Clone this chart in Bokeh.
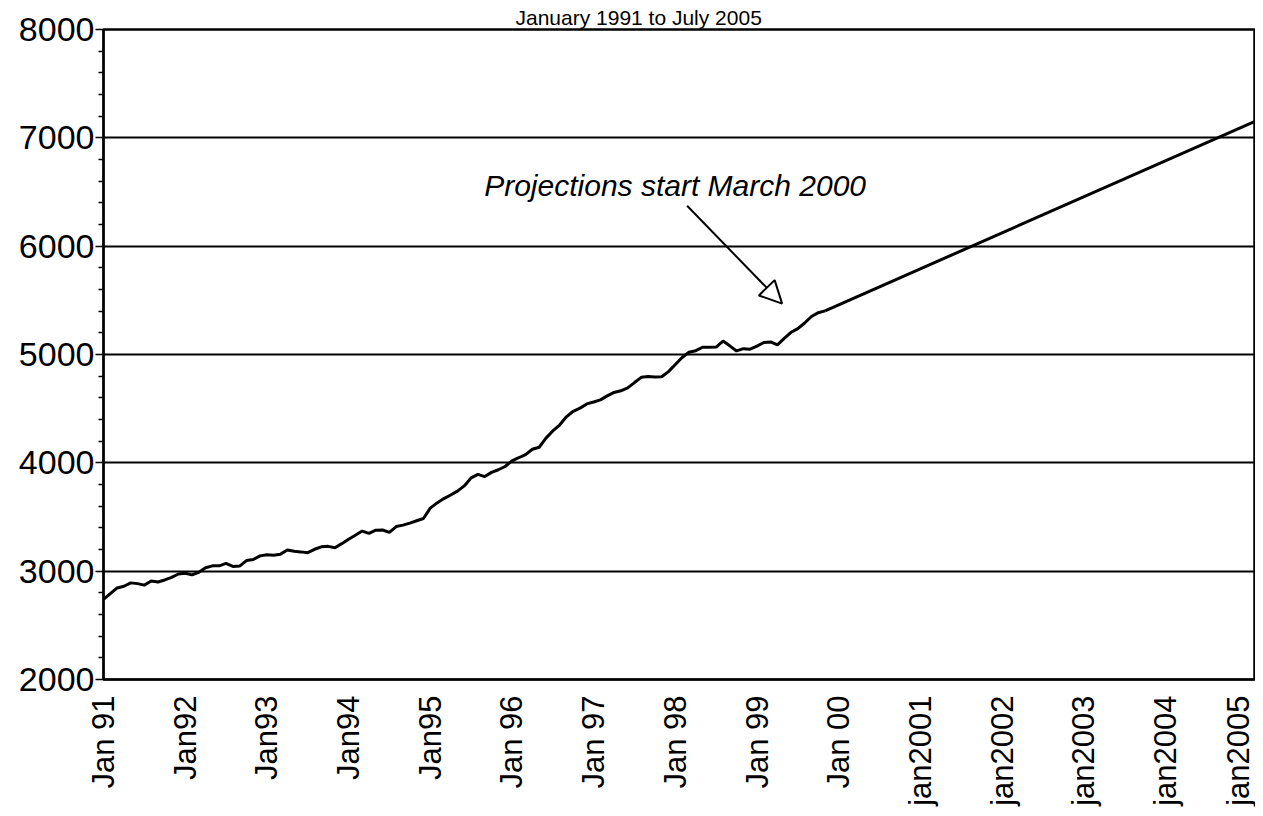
from math import pi
from bokeh.plotting import figure
from bokeh.models import Range1d, FixedTicker, Label, Arrow, NormalHead
from bokeh.embed import file_html
from bokeh.resources import INLINE

# ---- data ----
start_year = 1991
# monthly values, Jan 1991 onward (actual series)
actual = [
    2741, 2793, 2845, 2861, 2892, 2885, 2871, 2909, 2900, 2919, 2943, 2974,
    2980, 2966, 2989, 3032, 3049, 3049, 3072, 3044, 3047, 3098, 3108, 3141,
    3152, 3147, 3157, 3195, 3183, 3178, 3171, 3202, 3225, 3229, 3216, 3254,
    3295, 3332, 3370, 3349, 3378, 3380, 3358, 3412, 3425, 3444, 3465, 3486,
    3582, 3630, 3670, 3703, 3739, 3787, 3861, 3894, 3873, 3912, 3936, 3966,
    4019, 4047, 4076, 4125, 4144, 4228, 4294, 4349, 4425, 4476, 4505, 4544,
    4562, 4581, 4618, 4650, 4665, 4692, 4741, 4789, 4796, 4792, 4795, 4842,
    4907, 4972, 5021, 5035, 5067, 5068, 5069, 5124, 5080, 5033, 5054, 5049,
    5077, 5111, 5116, 5089, 5148, 5205, 5239, 5291, 5351, 5386, 5403,
]
# straight-line projection (year fraction, value)
projection_x = [1999 + 10 / 12, 2005 + 6 / 12]
projection_y = [5403, 7287]

tick_years = list(range(1991, 2006))
tick_labels = ["Jan 91", "Jan92", "Jan93", "Jan94", "Jan95", "Jan 96", "Jan 97",
               "Jan 98", "Jan 99", "Jan 00", "jan2001", "jan2002", "jan2003",
               "jan2004", "jan2005"]
y_ticks = [2000, 3000, 4000, 5000, 6000, 7000, 8000]
title_text = "January 1991 to July 2005"
note_text = "Projections start March 2000"

actual_x = [start_year + i / 12 for i in range(len(actual))]

FONT = "Liberation Sans"

p = figure(width=1255, height=808,
           x_range=Range1d(1991, 2005.09), y_range=Range1d(2000, 8000),
           output_backend="svg", toolbar_location=None,
           min_border_left=103, min_border_right=1,
           min_border_top=29, min_border_bottom=127)
p.background_fill_color = "white"
p.border_fill_color = "white"
p.outline_line_color = "black"
p.outline_line_width = 2.5

# title
p.title.text = title_text
p.title.align = "left"
p.title.offset = 412
p.title.standoff = 2
p.title.text_font = FONT
p.title.text_font_size = "21px"
p.title.text_font_style = "normal"
p.title.text_color = "black"

# grid
p.xgrid.visible = False
p.ygrid.ticker = FixedTicker(ticks=y_ticks)
p.ygrid.grid_line_color = "black"
p.ygrid.grid_line_width = 2

# y axis
minor = [v for v in range(2000, 8001, 200) if v % 1000 != 0]
p.yaxis.ticker = FixedTicker(ticks=y_ticks, minor_ticks=minor)
p.yaxis.axis_line_color = "black"
p.yaxis.axis_line_width = 2
p.yaxis.major_tick_out = 8
p.yaxis.major_tick_in = 0
p.yaxis.major_tick_line_width = 1.5
p.yaxis.minor_tick_out = 5
p.yaxis.minor_tick_in = 0
p.yaxis.minor_tick_line_width = 1.5
p.yaxis.minor_tick_line_color = "black"
p.yaxis.major_label_standoff = 1
p.yaxis.major_label_text_font = FONT
p.yaxis.major_label_text_font_size = "34px"
p.yaxis.major_label_text_color = "black"

# x axis
p.xaxis.ticker = FixedTicker(ticks=tick_years)
p.xaxis.major_label_overrides = {y: l for y, l in zip(tick_years, tick_labels)}
p.xaxis.major_label_orientation = pi / 2
p.xaxis.axis_line_color = "black"
p.xaxis.axis_line_width = 2
p.xaxis.major_tick_out = 0
p.xaxis.major_tick_in = 0
p.xaxis.minor_tick_line_color = None
p.xaxis.major_label_standoff = 16
p.xaxis.major_label_text_font = FONT
p.xaxis.major_label_text_font_size = "31px"
p.xaxis.major_label_text_color = "black"

# series
p.line(actual_x, actual, line_color="black", line_width=3)
p.line(projection_x, projection_y, line_color="black", line_width=3)

# annotation
p.add_layout(Label(x=1995.66, y=6558, text=note_text, text_align="left",
                   text_baseline="alphabetic", text_font=FONT,
                   text_font_style="italic", text_font_size="30px",
                   text_color="black"))
p.add_layout(Arrow(x_start=1998.144, y_start=6373, x_end=1999.307, y_end=5470,
                   line_color="black", line_width=2,
                   end=NormalHead(size=22, fill_color="white",
                                  line_color="black", line_width=2)))

open("out.html", "w").write(file_html(p, INLINE))
